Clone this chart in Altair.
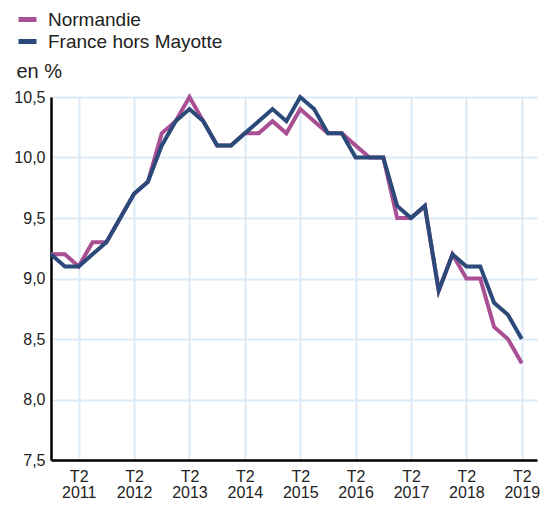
import altair as alt
import pandas as pd

# quarters from T4 2010 (index 0) to T2 2019 (index 34)
quarter_index = list(range(35))
normandie = [9.2, 9.2, 9.1, 9.3, 9.3, 9.5, 9.7, 9.8, 10.2, 10.3, 10.5, 10.3, 10.1, 10.1, 10.2, 10.2,
             10.3, 10.2, 10.4, 10.3, 10.2, 10.2, 10.1, 10.0, 10.0, 9.5, 9.5, 9.6, 8.9, 9.2, 9.0, 9.0,
             8.6, 8.5, 8.3]
france = [9.2, 9.1, 9.1, 9.2, 9.3, 9.5, 9.7, 9.8, 10.1, 10.3, 10.4, 10.3, 10.1, 10.1, 10.2, 10.3,
          10.4, 10.3, 10.5, 10.4, 10.2, 10.2, 10.0, 10.0, 10.0, 9.6, 9.5, 9.6, 8.9, 9.2, 9.1, 9.1,
          8.8, 8.7, 8.5]
series_names = ["Normandie", "France hors Mayotte"]
series_colors = ["#a94f93", "#2b4a7a"]
x_ticks = [2, 6, 10, 14, 18, 22, 26, 30, 34]
y_ticks = [7.5, 8.0, 8.5, 9.0, 9.5, 10.0, 10.5]

rows = []
for i, v in zip(quarter_index, normandie):
    rows.append({"q": i, "taux": v, "serie": series_names[0], "ordre": 0})
for i, v in zip(quarter_index, france):
    rows.append({"q": i, "taux": v, "serie": series_names[1], "ordre": 1})
df = pd.DataFrame(rows)

FONT = "Liberation Sans"

chart = alt.Chart(df).mark_line(strokeWidth=4, strokeJoin="miter").encode(
    x=alt.X("q:Q",
            scale=alt.Scale(domain=[0, 35.1], nice=False, zero=False),
            axis=alt.Axis(values=x_ticks, title=None, ticks=False, grid=True,
                          gridColor="#dce9f6", gridWidth=2,
                          domainColor="black", domainWidth=2.5,
                          labelExpr="['T2', '' + (2011 + (datum.value - 2) / 4)]",
                          labelFont=FONT, labelFontSize=16, labelColor="#222",
                          labelPadding=8, labelLineHeight=16.5)),
    y=alt.Y("taux:Q",
            scale=alt.Scale(domain=[7.5, 10.5], nice=False, zero=False),
            axis=alt.Axis(values=y_ticks, title="en %", ticks=False, grid=True,
                          gridColor="#dce9f6", gridWidth=2,
                          domainColor="black", domainWidth=2.5,
                          labelExpr="replace(format(datum.value, '.1f'), '.', ',')",
                          labelFont=FONT, labelFontSize=16, labelColor="#222",
                          labelPadding=6,
                          titleAngle=0, titleAlign="left", titleBaseline="alphabetic",
                          titleX=-35, titleY=-20, titleFont=FONT, titleFontSize=20,
                          titleFontWeight="normal", titleColor="#222")),
    color=alt.Color("serie:N",
                    scale=alt.Scale(domain=series_names, range=series_colors),
                    legend=alt.Legend(title=None, orient="none", legendX=-35, legendY=-89,
                                      symbolType="stroke", symbolStrokeWidth=5, symbolSize=324,
                                      labelFont=FONT, labelFontSize=19, labelColor="#222",
                                      labelLimit=400, rowPadding=-7, labelOffset=9)),
    order=alt.Order("ordre:Q"),
    detail="serie:N",
).properties(
    width=486, height=363,
    autosize=alt.AutoSizeParams(type="none"),
    padding={"left": 43, "top": 89, "right": 3, "bottom": 40},
).configure_view(stroke=None)

chart.save("out.html", embed_options={"renderer": "svg", "actions": False})
